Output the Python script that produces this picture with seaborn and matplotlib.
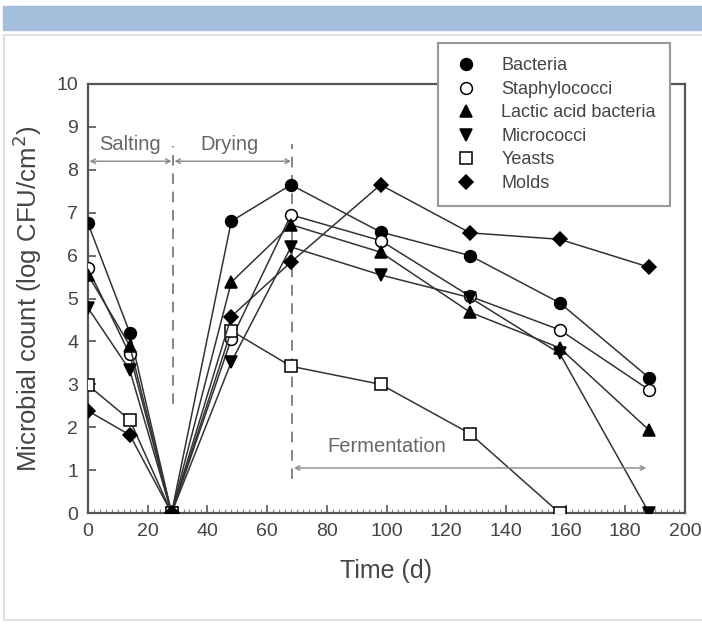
import pandas as pd
import matplotlib
matplotlib.use("Agg")
import matplotlib.pyplot as plt
from matplotlib.lines import Line2D
from matplotlib.patches import Rectangle
from matplotlib.ticker import MultipleLocator
import seaborn as sns
import numpy as np

sns.set_theme(style="ticks")
plt.rcParams['font.family'] = ['Liberation Sans', 'DejaVu Sans']

# Data
days = [0, 14, 28, 48, 68, 98, 128, 158, 188]
bacteria = [6.75, 4.2, 0, 6.8, 7.65, 6.55, 6.0, 4.9, 3.15]
staphylococci = [5.7, 3.7, 0, 4.05, 6.95, 6.35, 5.05, 4.27, 2.87]
lactic = [5.55, 3.9, 0, 5.38, 6.72, 6.08, 4.68, 3.85, 1.93]
micrococci = [4.78, 3.33, 0, 3.52, 6.2, 5.55, 5.02, 3.72, 0]
yeasts = [2.98, 2.17, 0, 4.25, 3.42, 3.0, 1.85, 0, np.nan]
molds = [2.38, 1.82, 0, 4.58, 5.85, 7.65, 6.53, 6.38, 5.73]

labels = ['Bacteria', 'Staphylococci', 'Lactic acid bacteria',
          'Micrococci', 'Yeasts', 'Molds']
series = [bacteria, staphylococci, lactic, micrococci, yeasts, molds]
markers = ['o', 'o', '^', 'v', 's', 'D']
filled = [True, False, True, True, False, True]
msizes = [8.5, 8.5, 8.5, 8.5, 8, 7.5]

text_col = '#444444'
line_col = '#333333'

fig = plt.figure(figsize=(7.02, 6.24), dpi=100)

# page decoration: blue header bar and light frame
fig.patches.append(Rectangle((0.004, 1 - 30 / 624), 0.996, 24 / 624,
                             transform=fig.transFigure, color='#a3bfdb', zorder=0))
fig.patches.append(Rectangle((4 / 702, 4 / 624), 1.0, 1 - 39 / 624,
                             transform=fig.transFigure, facecolor='none',
                             edgecolor='#dcdcdc', lw=1.2, zorder=0))

ax = fig.add_axes([88 / 702, 1 - 513 / 624, (685 - 88) / 702, (513 - 84) / 624])

for lab, vals, m, f, ms in zip(labels, series, markers, filled, msizes):
    df = pd.DataFrame({'Time': days, 'Count': vals}).dropna()
    sns.lineplot(data=df, x='Time', y='Count', ax=ax, color=line_col, lw=1.1,
                 marker=m, markersize=ms, markeredgecolor='black',
                 markerfacecolor='black' if f else 'white', markeredgewidth=1.1,
                 label=None, legend=False, zorder=3)

# phase separators
for xv, y0, y1 in [(28.5, 2.55, 8.55), (68.5, 0.8, 8.6)]:
    ax.plot([xv, xv], [y0, y1], color='#666666', lw=1.1, ls=(0, (7, 5)), zorder=1)

arrow_kw = dict(arrowstyle='<->', color='#888888', lw=1.0, shrinkA=0, shrinkB=0,
                mutation_scale=8)
ax.annotate('', xy=(0.5, 8.2), xytext=(28, 8.2), arrowprops=arrow_kw)
ax.annotate('', xy=(29, 8.2), xytext=(68, 8.2), arrowprops=arrow_kw)
ax.annotate('', xy=(69, 1.05), xytext=(187, 1.05), arrowprops=arrow_kw)

ax.text(14, 8.6, 'Salting', ha='center', va='center', fontsize=14.5, color='#666666')
ax.text(47.5, 8.6, 'Drying', ha='center', va='center', fontsize=14.5, color='#666666')
ax.text(100, 1.55, 'Fermentation', ha='center', va='center', fontsize=14.5, color='#666666')

ax.set_xlim(0, 200)
ax.set_ylim(0, 10)
ax.xaxis.set_major_locator(MultipleLocator(20))
ax.xaxis.set_minor_locator(MultipleLocator(2))
ax.yaxis.set_major_locator(MultipleLocator(1))
ax.tick_params(axis='both', which='major', direction='in', length=6, width=1.2,
               color='#555555', labelsize=14, labelcolor=text_col, pad=7)
ax.tick_params(axis='x', which='minor', direction='in', length=3, width=0.8,
               color='#888888')
for sp in ax.spines.values():
    sp.set_color('#555555')
    sp.set_linewidth(1.6)

ax.set_xlabel('Time (d)', fontsize=18, color=text_col, labelpad=14)
ax.set_ylabel('Microbial count (log CFU/cm$^2$)', fontsize=18.5, color=text_col, labelpad=9)

handles = [Line2D([], [], ls='none', marker=m, markersize=ms, color='black',
                  markerfacecolor='black' if f else 'white', markeredgewidth=1.1)
           for m, f, ms in zip(markers, filled, msizes)]
leg = fig.legend(handles, labels, loc='upper left', bbox_to_anchor=(438 / 702, 1 - 43 / 624),
                 fontsize=13, frameon=True, fancybox=False, framealpha=1,
                 edgecolor='#999999', borderpad=0.8, labelspacing=0.36,
                 handletextpad=1.2, handlelength=1.5, borderaxespad=0)
leg.get_frame().set_linewidth(1.5)
for t in leg.get_texts():
    t.set_color(text_col)

fig.savefig('out.png', dpi=100)
